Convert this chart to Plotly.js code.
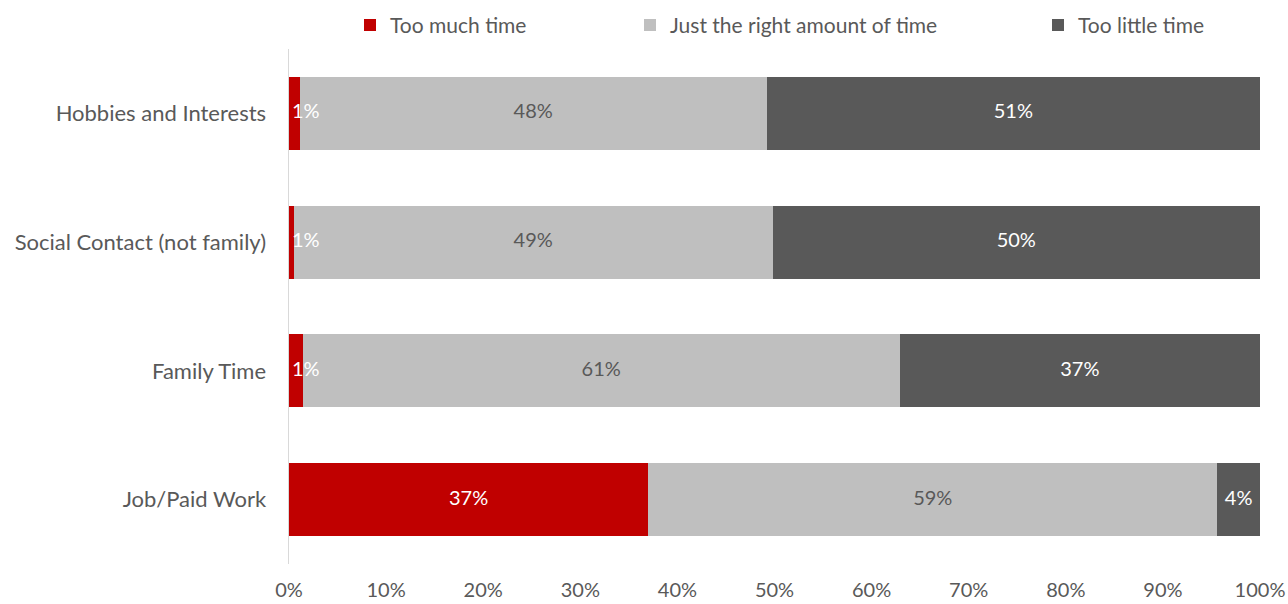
<!DOCTYPE html>
<html><head><meta charset="utf-8">
<script src="https://cdn.plot.ly/plotly-3.0.1.min.js"></script>
<style>html,body{margin:0;padding:0;background:#fff}#chart{width:1288px;height:604px}</style>
</head><body><div id="chart"></div>
<script>
const categories = ["Job/Paid Work", "Family Time", "Social Contact (not family)", "Hobbies and Interests"];
const tooMuch = [37.0, 1.4, 0.5, 1.1];
const justRight = [58.6, 61.5, 49.3, 48.1];
const tooLittle = [4.4, 37.1, 50.2, 50.8];
const tooMuchLabels = ["37%", "1%", "1%", "1%"];
const justRightLabels = ["59%", "61%", "49%", "48%"];
const tooLittleLabels = ["4%", "37%", "50%", "51%"];
const seriesNames = ["Too much time", "Just the right amount of time", "Too little time"];
const xTickVals = [0,10,20,30,40,50,60,70,80,90,100];
const xTickText = ["0%","10%","20%","30%","40%","50%","60%","70%","80%","90%","100%"];

const font = "Lato, 'Open Sans', sans-serif";
const colors = ['#C00000', '#BFBFBF', '#595959'];
const textColors = ['#FFFFFF', '#595959', '#FFFFFF'];
const series = [tooMuch, justRight, tooLittle];
const labels = [tooMuchLabels, justRightLabels, tooLittleLabels];
const legendIds = ['legend', 'legend2', 'legend3'];
const legendX = [350, 630, 1038];

const data = series.map((vals, i) => ({
  type:'bar', orientation:'h', y:categories, x:vals, name:seriesNames[i], legend:legendIds[i],
  marker:{color:colors[i], line:{width:0}}, hoverinfo:'skip', textposition:'none'
}));

series.forEach((vals, i) => {
  const xs = [], pos = [];
  vals.forEach((v, j) => {
    let start = 0;
    for (let k = 0; k < i; k++) start += series[k][j];
    if (v < 3 && i === 0) { xs.push(start + 0.3); pos.push('middle right'); }
    else { xs.push(start + v / 2); pos.push('middle center'); }
  });
  data.push({type:'scatter', mode:'text', x:xs, y:categories, text:labels[i],
    textposition:pos, textfont:{family:font, size:20, color:textColors[i]},
    showlegend:false, hoverinfo:'skip', cliponaxis:false});
});

function leg(px){
  return {orientation:'h', x:px/1288, xref:'container', xanchor:'left', y:0.958, yanchor:'middle', yref:'container',
    font:{family:font, size:21, color:'#595959'}, itemwidth:30, bgcolor:'rgba(0,0,0,0)'};
}
const layout = {
  width:1288, height:604, barmode:'stack', bargap:0.433,
  margin:{l:289, r:28, t:49, b:40},
  paper_bgcolor:'#fff', plot_bgcolor:'#fff',
  font:{family:font, size:20, color:'#595959'},
  showlegend:true,
  legend:leg(legendX[0]), legend2:leg(legendX[1]), legend3:leg(legendX[2]),
  xaxis:{range:[0,100], tickvals:xTickVals, ticktext:xTickText, showgrid:false, zeroline:false,
    showline:false, ticks:'', ticklabelstandoff:12, tickfont:{family:font, size:20, color:'#595959'}, fixedrange:true},
  yaxis:{categoryorder:'array', categoryarray:categories, showgrid:false, zeroline:false,
    showline:true, linecolor:'#D9D9D9', linewidth:1.5, ticks:'', ticklabelstandoff:17,
    tickfont:{family:font, size:22, color:'#595959'}, fixedrange:true}
};
Plotly.newPlot('chart', data, layout, {displayModeBar:false, staticPlot:true});
</script></body></html>
